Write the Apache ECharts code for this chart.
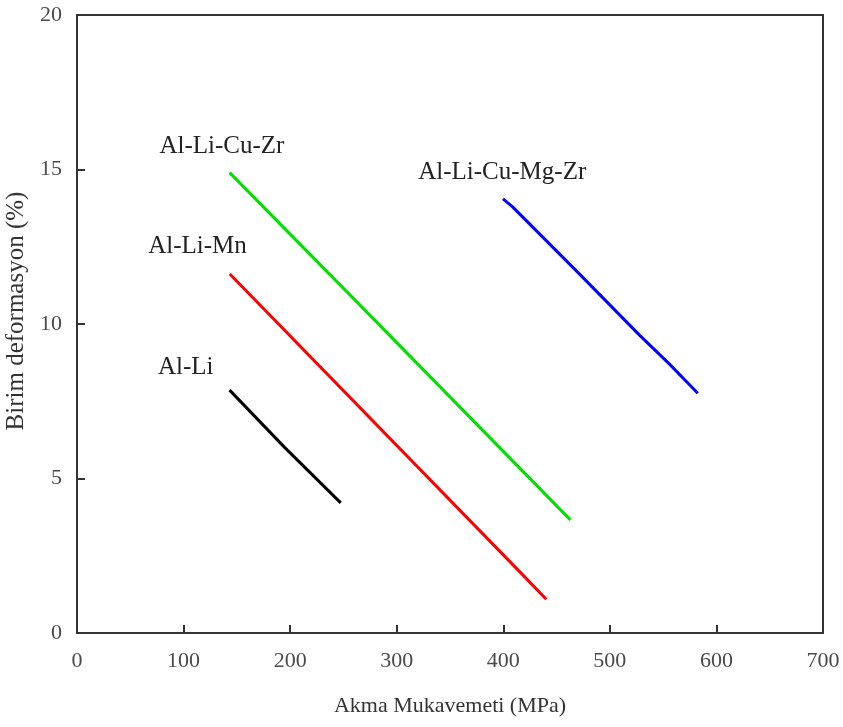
<!DOCTYPE html>
<html>
<head>
<meta charset="utf-8">
<script src="https://cdn.jsdelivr.net/npm/echarts@6/dist/echarts.min.js"></script>
<style>
  html, body { margin: 0; padding: 0; background: #fff; }
  #chart { width: 843px; height: 727px; }
</style>
</head>
<body>
<div id="chart"></div>
<script>
// Yield strength (MPa) vs. elongation (%) for Al-Li alloy families
const xTitle = 'Akma Mukavemeti (MPa)';
const yTitle = 'Birim deformasyon (%)';

const alLiX = [143.2, 195.0, 247.5];
const alLiY = [7.86, 6.00, 4.21];

const alLiMnX = [143.4, 416.9, 440.3];
const alLiMnY = [11.62, 1.93, 1.09];

const alLiCuZrX = [143.2, 263.0, 463.0];
const alLiCuZrY = [14.90, 10.70, 3.66];

const alLiCuMgZrX = [399.7, 408.5, 470.0, 527.8, 556.0, 582.5];
const alLiCuMgZrY = [14.05, 13.80, 11.67, 9.64, 8.70, 7.76];

// Series names and where their text sits (data coordinates)
const names = ['Al-Li', 'Al-Li-Mn', 'Al-Li-Cu-Zr', 'Al-Li-Cu-Mg-Zr'];
const nameAt = [[102, 8.6], [113, 12.5], [136, 15.75], [399, 14.9]];
const colors = ['#000000', '#ff0000', '#00e000', '#0000ff'];

const xs = [alLiX, alLiMnX, alLiCuZrX, alLiCuMgZrX];
const ys = [alLiY, alLiMnY, alLiCuZrY, alLiCuMgZrY];

const serif = '"Liberation Serif", "Times New Roman", serif';

const series = names.map((n, i) => ({
  name: n,
  type: 'line',
  data: xs[i].map((x, k) => [x, ys[i][k]]),
  showSymbol: false,
  lineStyle: { color: colors[i], width: 3 },
  markPoint: {
    symbol: 'circle',
    symbolSize: 0,
    data: [{ coord: nameAt[i] }],
    label: {
      show: true,
      position: 'inside',
      formatter: n,
      fontFamily: serif,
      fontSize: 25,
      color: '#222'
    }
  },
  z: 3
}));

const chart = echarts.init(document.getElementById('chart'));
chart.setOption({
  animation: false,
  backgroundColor: '#fff',
  grid: {
    left: 77, top: 15, right: 20, bottom: 94,
    containLabel: false, outerBoundsMode: 'none',
    show: true, borderColor: '#333', borderWidth: 2, backgroundColor: 'transparent'
  },
  xAxis: {
    type: 'value', min: 0, max: 700, interval: 100,
    name: xTitle, nameLocation: 'middle', nameGap: 62,
    nameTextStyle: { fontFamily: serif, fontSize: 22, color: '#333' },
    axisLine: { show: true, lineStyle: { color: '#333', width: 2 } },
    axisTick: { show: true, inside: true, length: 8, lineStyle: { color: '#333', width: 2 } },
    axisLabel: { fontFamily: serif, fontSize: 22, color: '#4a4a4a', margin: 17 },
    splitLine: { show: false }
  },
  yAxis: {
    type: 'value', min: 0, max: 20, interval: 5,
    name: yTitle, nameLocation: 'middle', nameGap: 43, nameRotate: 90,
    nameTextStyle: { fontFamily: serif, fontSize: 25, color: '#333', padding: [0, 0, 0, 26] },
    axisLine: { show: true, lineStyle: { color: '#333', width: 2 } },
    axisTick: { show: true, inside: true, length: 8, lineStyle: { color: '#333', width: 2 } },
    axisLabel: { fontFamily: serif, fontSize: 22, color: '#4a4a4a', margin: 15 },
    splitLine: { show: false }
  },
  series: series
});
</script>
</body>
</html>
